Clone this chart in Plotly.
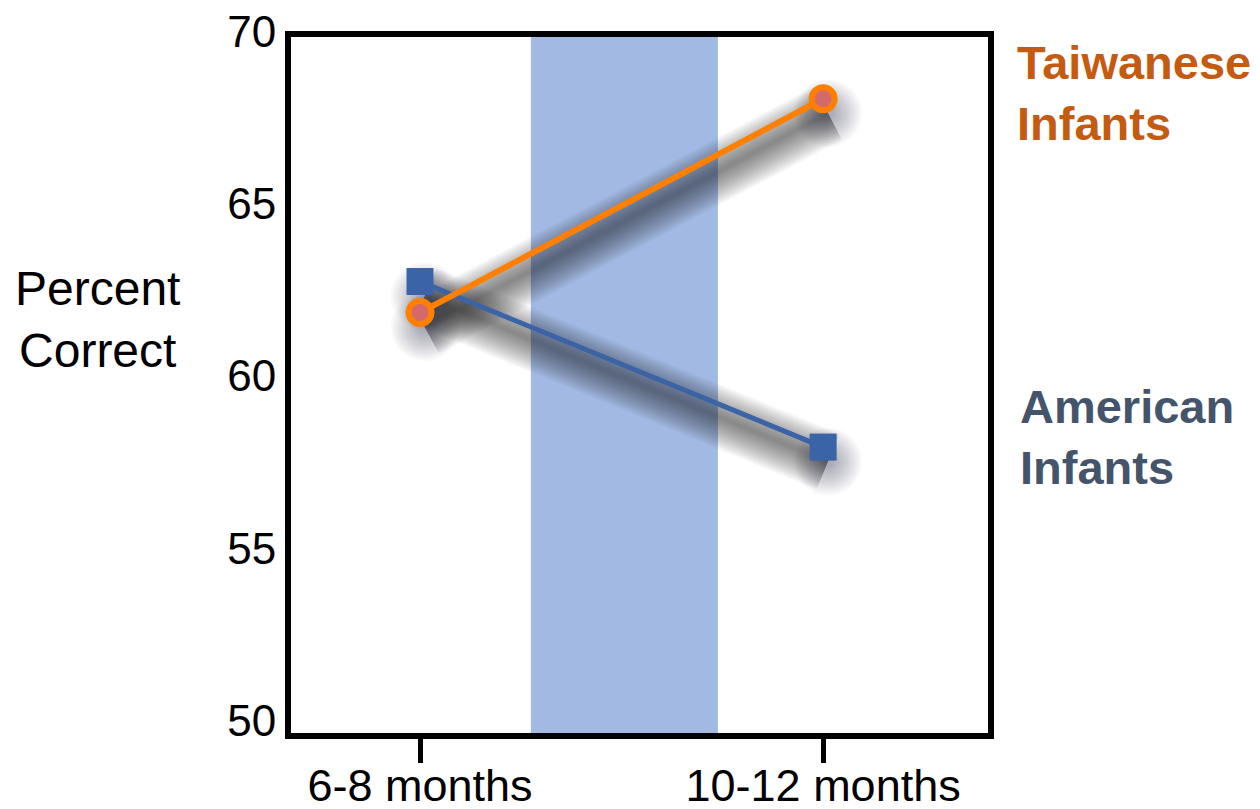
import plotly.graph_objects as go

ages = ["6-8 months", "10-12 months"]
american = [63.0, 58.2]
taiwanese = [62.1, 68.3]
y_ticks = [50, 55, 60, 65, 70]

FONT = "Liberation Sans, Arial, sans-serif"
BLUE = "#3B64A6"
ORANGE = "#FF8000"

xpos = list(range(len(ages)))
xr = [-0.32, 1.409]
yr = [49.91, 70.09]
dx, dy = 0.012, 0.42  # shadow offset in data units (drawn on offset overlay axes)

fig = go.Figure()

# soft blurred shadow built from stacked translucent strokes
for w in range(60, 3, -4):
    for ys in (american, taiwanese):
        fig.add_trace(go.Scatter(x=xpos, y=ys, mode="lines",
                                 line=dict(color="rgba(20,20,30,0.045)", width=w),
                                 xaxis="x2", yaxis="y2", hoverinfo="skip",
                                 showlegend=False))
        fig.add_trace(go.Scatter(x=xpos, y=ys, mode="markers",
                                 marker=dict(color="rgba(20,20,30,0.025)", size=w + 8,
                                             line=dict(width=0)),
                                 xaxis="x2", yaxis="y2", hoverinfo="skip",
                                 showlegend=False))

fig.add_trace(go.Scatter(x=xpos, y=american, mode="lines+markers", name="American Infants",
                         line=dict(color=BLUE, width=5),
                         marker=dict(symbol="square", size=27, color=BLUE),
                         xaxis="x3", yaxis="y3", showlegend=False))
fig.add_trace(go.Scatter(x=xpos, y=taiwanese, mode="lines+markers", name="Taiwanese Infants",
                         line=dict(color=ORANGE, width=6),
                         marker=dict(symbol="circle", size=23, color="#D4696A",
                                     line=dict(color=ORANGE, width=6)),
                         xaxis="x3", yaxis="y3", showlegend=False))

fig.add_shape(type="rect", xref="x", yref="paper", x0=0.275, x1=0.739, y0=0, y1=1,
              fillcolor="#A2BAE3", line_width=0, layer="below")

hidden = dict(visible=False, showgrid=False, zeroline=False)
fig.update_layout(
    width=1260, height=809,
    margin=dict(l=283, r=280, t=29, b=84),
    paper_bgcolor="white", plot_bgcolor="white",
    font=dict(family=FONT, size=45, color="black"),
    xaxis=dict(range=xr, tickvals=xpos, ticktext=ages, showgrid=False, zeroline=False,
               showline=True, linewidth=6, linecolor="black", mirror=True,
               ticks="outside", ticklen=24, tickwidth=5, tickcolor="black",
               tickfont=dict(size=45), automargin=False, ticklabelstandoff=-16),
    yaxis=dict(range=yr, tickvals=y_ticks, showgrid=False, zeroline=False,
               showline=True, linewidth=6, linecolor="black", mirror=True,
               ticks="", tickfont=dict(size=44), automargin=False,
               ticklabelstandoff=0, ticklabelshift=-9, ticklabeloverflow="allow"),
    xaxis2=dict(range=[xr[0] - dx, xr[1] - dx], overlaying="x", **hidden),
    yaxis2=dict(range=[yr[0] + dy, yr[1] + dy], overlaying="y", **hidden),
    xaxis3=dict(range=xr, overlaying="x", **hidden),
    yaxis3=dict(range=yr, overlaying="y", **hidden),
)

fig.add_annotation(text="Taiwanese<br>Infants", xref="paper", yref="paper", x=1.039, y=1.004,
                   xanchor="left", yanchor="top", align="left", showarrow=False,
                   font=dict(family=FONT, size=47, color="#C55A11", weight="bold"))
fig.add_annotation(text="American<br>Infants", xref="paper", yref="paper", x=1.043, y=0.51,
                   xanchor="left", yanchor="top", align="left", showarrow=False,
                   font=dict(family=FONT, size=47, color="#44546A", weight="bold"))
fig.add_annotation(text="Percent<br>Correct", xref="paper", yref="paper", x=-0.278, y=0.68,
                   xanchor="center", yanchor="top", align="center", showarrow=False,
                   font=dict(family=FONT, size=48, color="black"))

fig.write_html("out.html")
